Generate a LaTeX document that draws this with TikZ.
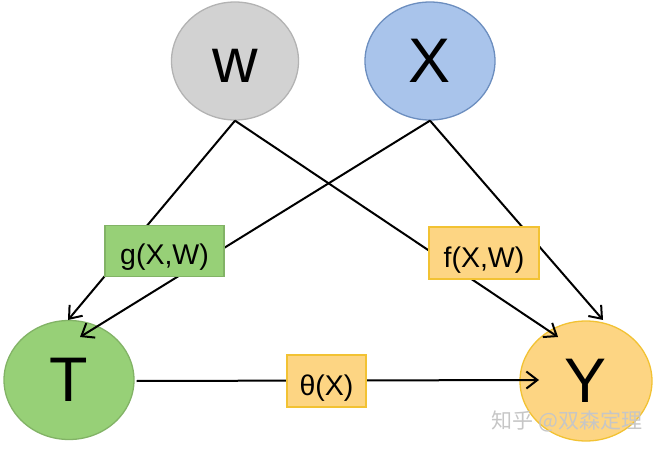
\documentclass[tikz,border=0pt]{standalone}
\usepackage{fontspec}
\setmainfont{Liberation Sans}
\newfontfamily\cjkfont{Noto Sans CJK SC}
\usetikzlibrary{shapes.geometric,arrows.meta,calc}
\definecolor{wfill}{HTML}{D2D2D2}
\definecolor{wdraw}{HTML}{B3B3B3}
\definecolor{xfill}{HTML}{A9C4EB}
\definecolor{xdraw}{HTML}{6C8EBF}
\definecolor{gfill}{HTML}{97D077}
\definecolor{gdraw}{HTML}{82B366}
\definecolor{yfill}{HTML}{FDD583}
\definecolor{ydraw}{HTML}{F2C233}
\begin{document}
\begin{tikzpicture}[x=1pt,y=-1pt,
  var/.style={ellipse, draw, line width=1.3pt, inner sep=0pt, font=\fontsize{63}{63}\selectfont},
  fnbox/.style={rectangle, draw, line width=1.3pt, inner sep=0pt, text height=28pt, text depth=0pt, font=\fontsize{28.5}{28.5}\selectfont},
  conn/.style={line width=2pt, -{Straight Barb[length=11pt,width=17pt]}},
  wmark/.style={font=\cjkfont\fontsize{21}{21}\selectfont}
]
\useasboundingbox (0,0) rectangle (656,449);
\node[var, fill=wfill, draw=wdraw, minimum width=127pt, minimum height=118pt] (W) at (235,61) {\vphantom{X}w};
\node[var, fill=xfill, draw=xdraw, minimum width=130pt, minimum height=118pt] (X) at (430,61) {X};
\node[var, fill=gfill, draw=gdraw, minimum width=130pt, minimum height=119pt] (T) at (69,380) {T};
\node[var, fill=yfill, draw=ydraw, minimum width=132pt, minimum height=120pt] (Y) at (586,381) {Y};
\draw[conn] (W.south) -- ($(T.center)+(-1,-60)$);
\draw[conn] (X.south) -- ($(T.center)+(11,-43)$);
\draw[conn] (W.south) -- ($(Y.center)+(-28,-44)$);
\draw[conn] (X.south) -- ($(Y.center)+(17,-61)$);
\draw[conn] ($(T.east)+(2,1)$) -- ($(Y.center)+(-47,-1)$);
\node[fnbox, fill=gfill, draw=gdraw, minimum width=119pt, minimum height=51pt] (g) at (164.5,251) {g(X,W)};
\node[fnbox, fill=yfill, draw=ydraw, minimum width=110pt, minimum height=52pt] (f) at (484,253) {f(X,W)};
\node[fnbox, fill=yfill, draw=ydraw, minimum width=79pt, minimum height=52pt] (th) at (326.5,381) {θ(X)};
\node[wmark, text=white!55!gray] (wm) at (567,421) {知乎 @双森定理};
\end{tikzpicture}
\end{document}
